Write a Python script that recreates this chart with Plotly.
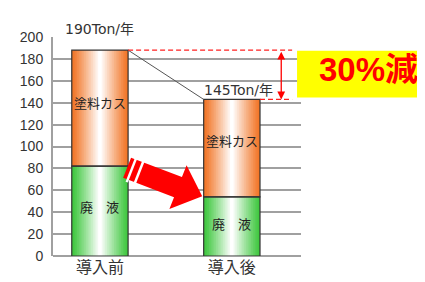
import plotly.graph_objects as go

# ---- data ----
categories = ["導入前", "導入後"]
waste_liquid = [82, 54]          # 廃液 (green, bottom)
paint_residue = [106, 89]        # 塗料カス (orange, top)
total_labels = ["190Ton/年", "145Ton/年"]
seg_labels = ["塗料カス", "廃　液"]
reduction_text = "30%減"
y_ticks = list(range(0, 201, 20))

xpos = [0, 1]
W = 0.427
totals = [g + o for g, o in zip(waste_liquid, paint_residue)]

# pixel <-> data helpers (for decorations only)
X0PX, XSCALE = 89.5, 133.5
Y0PX, YSCALE = 253.0, 1.12
PL, PR, PT, PB = 42, 293, 29, 253
def px2d(px, py):
    return (px - X0PX) / XSCALE, (Y0PX - py) / YSCALE
def px2paper(px, py):
    return (px - PL) / (PR - PL), (PB - py) / (PB - PT)

def mix(c, t):
    r, g, b = c
    return "rgb(%d,%d,%d)" % (r + (255 - r) * t, g + (255 - g) * t, b + (255 - b) * t)

ORANGE = (242, 118, 40)
GREEN = (64, 200, 64)

fig = go.Figure()
N = 16
for k in range(N):
    w = W * (1 - k / N)
    t = (k / (N - 1)) ** 1.1
    fig.add_trace(go.Bar(x=xpos, y=waste_liquid, base=[0, 0], width=w,
                         marker=dict(color=mix(GREEN, t), line=dict(width=0)),
                         hoverinfo="skip", showlegend=False))
    fig.add_trace(go.Bar(x=xpos, y=paint_residue, base=waste_liquid, width=w,
                         marker=dict(color=mix(ORANGE, t), line=dict(width=0)),
                         hoverinfo="skip", showlegend=False))
# outlines
fig.add_trace(go.Bar(x=xpos, y=waste_liquid, base=[0, 0], width=W,
                     marker=dict(color="rgba(0,0,0,0)", line=dict(width=1.2, color="#333")),
                     hoverinfo="skip", showlegend=False))
fig.add_trace(go.Bar(x=xpos, y=paint_residue, base=waste_liquid, width=W,
                     marker=dict(color="rgba(0,0,0,0)", line=dict(width=1.2, color="#333")),
                     hoverinfo="skip", showlegend=False))

# connecting diagonal line
fig.add_trace(go.Scatter(x=[xpos[0] + W / 2, xpos[1] - W / 2], y=[totals[0], totals[1]],
                         mode="lines", line=dict(color="#555", width=1),
                         hoverinfo="skip", showlegend=False))

# red dashed reference lines
xr_end = px2d(284, 0)[0]
for i in range(2):
    fig.add_trace(go.Scatter(x=[xpos[i] + W / 2, xr_end], y=[totals[i], totals[i]],
                             mode="lines", line=dict(color="#ff2020", width=1.3, dash="5px,3px"),
                             hoverinfo="skip", showlegend=False))

# big red arrow polygon (decoration)
poly_px = [(121, 152.4), (172.5, 172.3), (177.2, 160.1), (193, 192),
           (159.8, 204.9), (164.5, 192.8), (113, 172.9), (121, 152.4)]
pd_ = [px2d(*p) for p in poly_px]
fig.add_trace(go.Scatter(x=[p[0] for p in pd_], y=[p[1] for p in pd_], mode="lines",
                         fill="toself", fillcolor="#ff0000", line=dict(color="#ff0000", width=0),
                         hoverinfo="skip", showlegend=False))
ux, uy = 0.932, 0.361
nx, ny = -0.361, 0.932
ct = (117, 162.6)
for s in (5, 13):
    a = (ct[0] + s * ux - 14 * nx, ct[1] + s * uy - 14 * ny)
    b = (ct[0] + s * ux + 14 * nx, ct[1] + s * uy + 14 * ny)
    da, db = px2d(*a), px2d(*b)
    fig.add_trace(go.Scatter(x=[da[0], db[0]], y=[da[1], db[1]], mode="lines",
                             line=dict(color="white", width=2.5),
                             hoverinfo="skip", showlegend=False))

annotations = []
# total labels
lblfont = dict(size=14, color="#333", family="DejaVu Sans, Noto Sans CJK JP")
annotations.append(dict(x=xpos[0], y=totals[0], text=total_labels[0], showarrow=False,
                        yanchor="bottom", yshift=11, font=lblfont))
annotations.append(dict(x=xpos[1] + 0.05, y=totals[1], text=total_labels[1], showarrow=False,
                        yanchor="bottom", yshift=-1, font=lblfont))
# segment labels
for i in range(2):
    annotations.append(dict(x=xpos[i], y=waste_liquid[i] + paint_residue[i] * (0.55 if i == 0 else 0.58),
                            text=seg_labels[0], showarrow=False,
                            font=dict(size=13, color="#222", family="Noto Sans CJK JP")))
    annotations.append(dict(x=xpos[i], y=waste_liquid[i] * 0.55, text=seg_labels[1], showarrow=False,
                            font=dict(size=13, color="#222", family="Noto Sans CJK JP")))
# double red arrow
xa = px2d(273, 0)[0]
annotations.append(dict(x=xa, y=totals[1], ax=xa, ay=totals[0], xref="x", yref="y",
                        axref="x", ayref="y", showarrow=True, arrowhead=2, arrowside="end+start",
                        arrowsize=1.2, arrowwidth=1.3, arrowcolor="#ff0000", text=""))
# reduction label
lx, ly = px2paper(361, 62)
annotations.append(dict(x=lx, y=ly, xref="paper", yref="paper", text="<b>" + reduction_text + "</b>",
                        showarrow=False, xanchor="center", yanchor="middle",
                        font=dict(size=33, color="#ff0000",
                                  family="Liberation Sans, Noto Sans CJK JP")))

bx0, by0 = px2paper(289, 91)
bx1, by1 = px2paper(424, 43)
shapes = [dict(type="rect", xref="paper", yref="paper",
               x0=bx0, x1=bx1, y0=by0, y1=by1,
               fillcolor="#ffff00", line=dict(width=0), layer="above")]

fig.update_layout(
    width=425, height=282,
    margin=dict(l=PL, r=425 - PR, t=PT, b=282 - PB),
    paper_bgcolor="white", plot_bgcolor="white",
    barmode="overlay",
    showlegend=False,
    annotations=annotations,
    shapes=shapes,
    font=dict(family="Liberation Sans, Noto Sans CJK JP", color="#333"),
    xaxis=dict(range=[px2d(PL, 0)[0], px2d(PR, 0)[0]], tickvals=xpos, ticktext=categories,
               showgrid=False, zeroline=False, showline=False, ticks="",
               tickfont=dict(size=16, color="#333", family="Noto Sans CJK JP")),
    yaxis=dict(range=[0, 200], tickvals=y_ticks, showgrid=True, gridcolor="#a0a0a0",
               gridwidth=2, zeroline=True, zerolinecolor="#a0a0a0", zerolinewidth=2,
               showline=True, linecolor="#a0a0a0", linewidth=2,
               ticks="outside", ticklen=5, tickcolor="rgba(0,0,0,0)",
               tickfont=dict(size=14, color="#333")),
)
fig.update_xaxes(fixedrange=True)
fig.write_html("out.html")
